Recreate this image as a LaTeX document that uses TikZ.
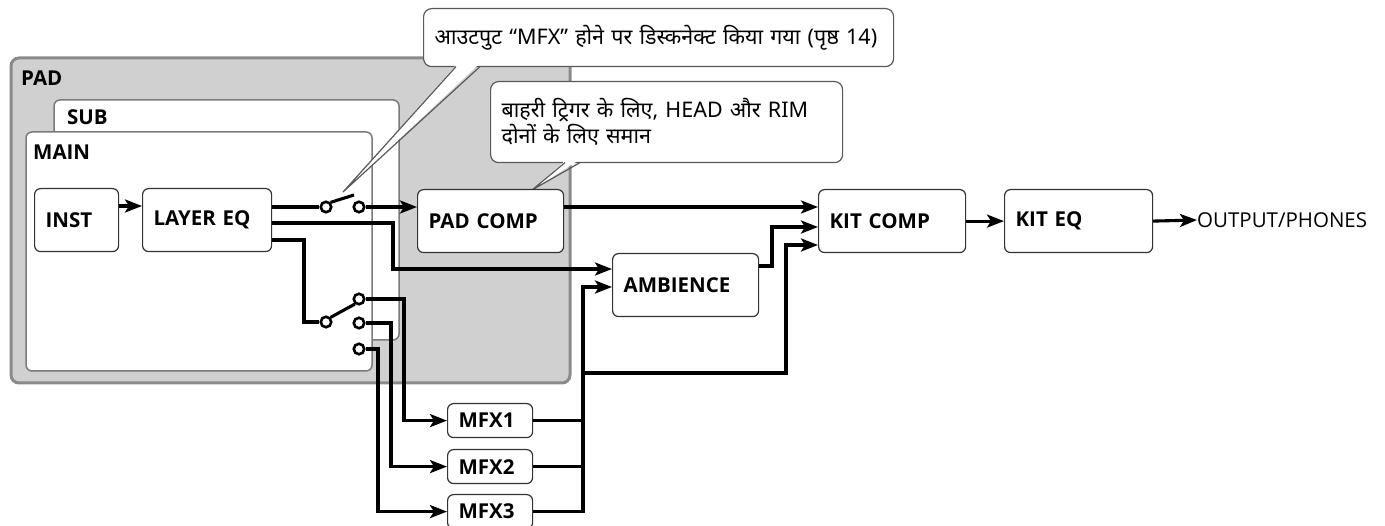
\documentclass[tikz,border=0pt]{standalone}
\usepackage{fontspec}
\setmainfont{Open Sans}
\newfontfamily\deva[Script=Devanagari]{Noto Sans}
\usetikzlibrary{arrows.meta}
\definecolor{padfill}{HTML}{D0D0D0}
\definecolor{padline}{HTML}{8A8A8A}
\definecolor{boxline}{HTML}{7A7A7A}
\begin{document}
\begin{tikzpicture}[x=1pt,y=-1pt,
  blk/.style={draw=black!80, line width=1.2pt, rounded corners=6pt, fill=white,
    font=\fontsize{20.5}{24}\selectfont\bfseries, align=left, inner xsep=11pt, inner ysep=0pt,
    minimum height=63pt, anchor=north west, text width=#1},
  mfx/.style={blk=#1, minimum height=34pt},
  cont/.style={draw=boxline, line width=1.5pt, rounded corners=6pt, fill=white},
  clab/.style={font=\fontsize{20.5}{24}\selectfont\bfseries, anchor=west, inner sep=0pt},
  sw/.style={circle, draw, line width=2.6pt, fill=white, minimum size=10.5pt, inner sep=0pt},
  wire/.style={line width=3.1pt},
  arr/.style={wire, -{Stealth[length=17pt,width=13pt,inset=4pt]}},
  callbox/.style={draw=black!65, line width=1.2pt, rounded corners=8pt, fill=white,
    font=\deva\fontsize{21.5}{26}\selectfont, align=left, inner xsep=11pt, inner ysep=0pt, anchor=north west},
  callline/.style={draw=black!65, line width=1.2pt, line join=miter}
]
\useasboundingbox (0,0) rectangle (1385,526);

% containers
\draw[draw=padline, line width=3pt, rounded corners=8pt, fill=padfill] (11,58) rectangle (570,383);
\node[clab] (padlab) at (21,78) {PAD};
\draw[cont] (54,100) rectangle (399,340);
\node[clab] (sublab) at (67,117) {SUB};
\draw[cont] (26,132) rectangle (372,371);
\node[clab] (mainlab) at (33,152) {MAIN};

% callouts
\node[callbox, text width=448pt, minimum height=58pt] (c1) at (423,8)
  {आउटपुट “MFX” होने पर डिस्कनेक्ट किया गया (पृष्ठ 14)};
\coordinate (t1) at (343,192);
\fill[white] (457,64) -- (t1) -- (479,64) -- cycle;
\draw[callline] (456,66.6) -- (t1) -- (480,66.6);

\node[callbox, text width=330pt, minimum height=81pt] (c2) at (490,81)
  {बाहरी ट्रिगर के लिए, HEAD और RIM\\दोनों के लिए समान};
\coordinate (t2) at (532,190);
\fill[white] (566,160) -- (t2) -- (579,160) -- cycle;
\draw[callline] (565,162.6) -- (t2) -- (580,162.6);

% blocks
\node[blk=62pt] (inst) at (34,188) {INST};
\node[blk=107pt] (leq) at (142,188) {LAYER EQ};
\node[blk=124pt] (pc) at (417,189) {PAD COMP};
\node[blk=124pt] (amb) at (612,253) {AMBIENCE};
\node[blk=125pt] (kc) at (818,189) {KIT COMP};
\node[blk=126pt] (ke) at (1004,189) {KIT EQ};
\node[mfx=63pt] (m1) at (447,403) {MFX1};
\node[mfx=63pt] (m2) at (447,449) {MFX2};
\node[mfx=63pt] (m3) at (447,494) {MFX3};
\node[font=\fontsize{20.5}{24}\selectfont, anchor=west, inner sep=0pt] (out) at (1197,220) {OUTPUT/PHONES};

% switches
\node[sw] (s1a) at (326,207) {};
\node[sw] (s1b) at (359,207) {};
\node[sw] (s2c) at (326,322) {};
\node[sw] (s2o1) at (359,299) {};
\node[sw] (s2o2) at (359,323) {};
\node[sw] (s2o3) at (359,349) {};
\draw[wire] (s1a.north east) -- (354,195);
\draw[wire] (s2c.north east) -- (355,304);

% wires
\draw[arr] (inst.east |- 0,206) -- (leq.west |- 0,206);
\draw[wire] (leq.east |- s1a) -- (s1a);
\draw[arr] (s1b) -- (pc.west |- s1b);
\draw[arr] (leq.east |- 0,223) -- (393,223) -- (393,269) -- (amb.west |- 0,269);
\draw[wire] (leq.east |- 0,240) -- (304,240) -- (304,322) -- (s2c);
\draw[arr] (s2o1.east) -- (404,299) |- (m1.west);
\draw[arr] (s2o2.east) -- (391,323) |- (m2.west);
\draw[arr] (s2o3.east) -- (378,349) |- (m3.west);

\coordinate (busT) at (583,287);
\draw[wire] (m1.east) -- (m1.east -| busT);
\draw[wire] (m2.east) -- (m2.east -| busT);
\draw[arr] (m3.east) -- (m3.east -| busT) -- (busT) -- (amb.west |- busT);
\draw[arr] (583,373) -- (786,373) -- (786,245) -- (kc.west |- 0,245);

\draw[arr] (pc.east |- s1a) -- (kc.west |- s1a);
\draw[arr] (amb.east |- 0,266) -- (772,266) -- (772,227) -- (kc.west |- 0,227);
\draw[arr] (kc.east) -- (ke.west);
\draw[arr] (ke.east) -- (out.west);
\end{tikzpicture}
\end{document}
